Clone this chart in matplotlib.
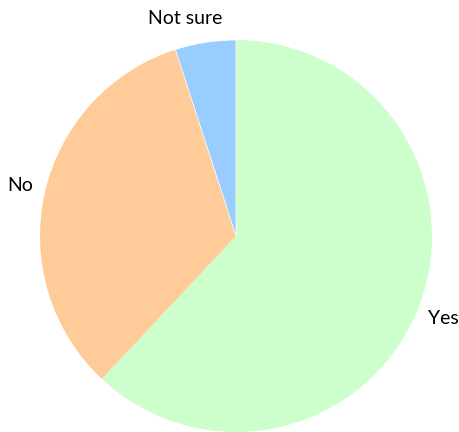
import matplotlib.pyplot as plt

plt.rcParams['font.family'] = ['Lato', 'DejaVu Sans']

labels = ['Yes', 'No', 'Not sure']
values = [62, 33, 5]
colors = ['#CCFFCC', '#FFCC99', '#99CCFF']

fig = plt.figure(figsize=(4.6, 4.32), dpi=100)
ax = fig.add_axes([40 / 460, 0, 392 / 460, 392 / 432])

wedges, texts = ax.pie(values, labels=labels, colors=colors, startangle=90,
                       counterclock=False, radius=1,
                       wedgeprops=dict(linewidth=0),
                       textprops=dict(fontsize=14, color='black'))
# thin white seam at the top between "Not sure" and "Yes"
wedges[2].set_edgecolor('white')
wedges[2].set_linewidth(0.5)

# label placement outside the rim
label_pos = {'Yes': (1.06, -0.42), 'No': (-1.1, 0.26), 'Not sure': (-0.26, 1.11)}
for t in texts:
    x, y = label_pos[t.get_text()]
    t.set_position((x, y))
    t.set_ha('center')
    t.set_va('center')
    t.set_clip_on(False)

ax.set_xlim(-1, 1)
ax.set_ylim(-1, 1)
ax.set_aspect('equal')

fig.savefig('out.png', dpi=100)
